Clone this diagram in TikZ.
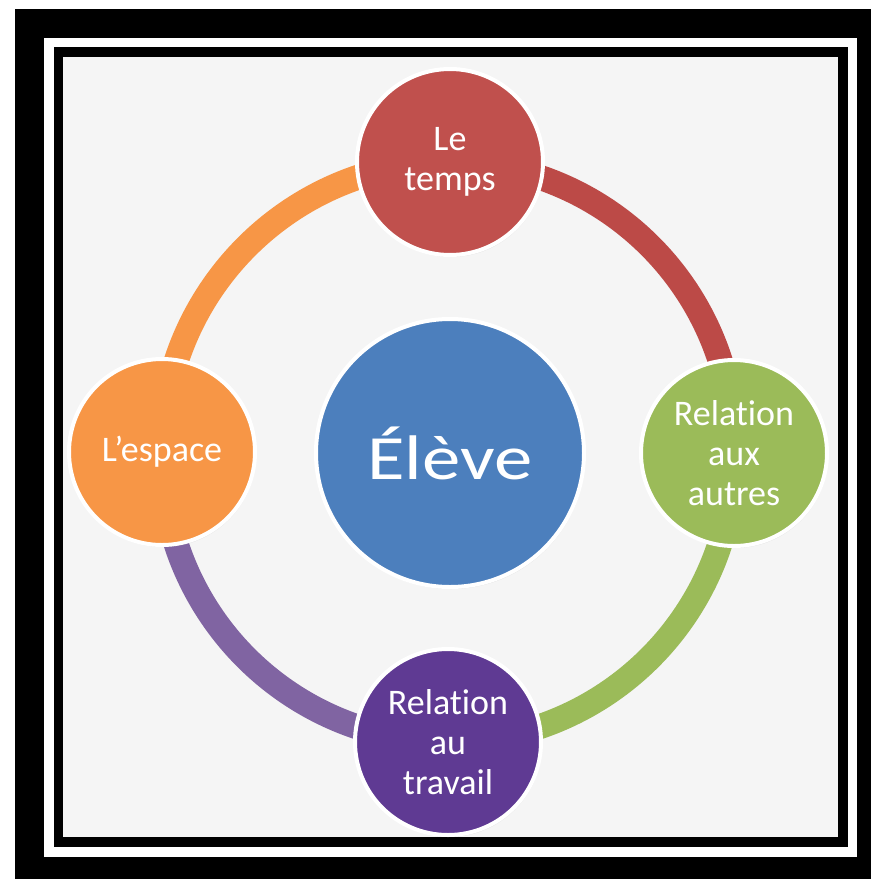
\documentclass[tikz,border=0pt]{standalone}
\usepackage{fontspec}
\setmainfont{Carlito}[RawFeature={-liga}]
\usetikzlibrary{shadows}
\pgfdeclarelayer{framelayer}
\pgfdeclarelayer{ringlayer}
\pgfsetlayers{framelayer,ringlayer,main}
\definecolor{bgcol}{HTML}{F5F5F5}
\definecolor{cRed}{HTML}{C0504D}
\definecolor{cRedRing}{HTML}{BC4A47}
\definecolor{cGreen}{HTML}{9BBB59}
\definecolor{cPurple}{HTML}{5F3A93}
\definecolor{cPurpleRing}{HTML}{8064A2}
\definecolor{cOrange}{HTML}{F79646}
\definecolor{cBlue}{HTML}{4C7FBD}
\begin{document}
\begin{tikzpicture}[x=1pt,y=-1pt,
  topic/.style={circle, draw=white, line width=4pt, minimum size=186pt, inner sep=0pt,
    text=white, align=center, font=\fontsize{36}{40}\selectfont,
    drop shadow={opacity=0.18, shadow xshift=1pt, shadow yshift=-2pt}},
  hub/.style={topic, minimum size=268pt},
  ringarc/.style={line width=25pt, line cap=butt}]
\useasboundingbox (0,0) rectangle (871,879);
\begin{pgfonlayer}{framelayer}
  \fill[white] (0,0) rectangle (871,879);
  \fill[black] (15,9) rectangle (871,879);
  \fill[white] (44,38) rectangle (857,857);
  \fill[black] (54,47) rectangle (848,847);
  \fill[bgcol] (63,57) rectangle (838,837);
\end{pgfonlayer}
\node[topic, fill=cRed] (temps) at (450,162) {Le\\temps};
\node[topic, fill=cGreen] (autres) at (734,453) {Relation\\aux\\autres};
\node[topic, fill=cPurple] (travail) at (448,742) {Relation\\au\\travail};
\node[topic, fill=cOrange] (espace) at (162,452) {L’espace};
\node[hub, fill=cBlue] (eleve) at (450,453) {\scalebox{1.22}[1]{\fontsize{63}{70}\selectfont Élève}};
\begin{pgfonlayer}{ringlayer}
  \draw[ringarc, cOrange] (espace.center) to[bend left=45] (temps.center);
  \draw[ringarc, cRedRing] (temps.center) to[bend left=45] (autres.center);
  \draw[ringarc, cGreen] (autres.center) to[bend left=45] (travail.center);
  \draw[ringarc, cPurpleRing] (travail.center) to[bend left=45] (espace.center);
\end{pgfonlayer}
\end{tikzpicture}
\end{document}
